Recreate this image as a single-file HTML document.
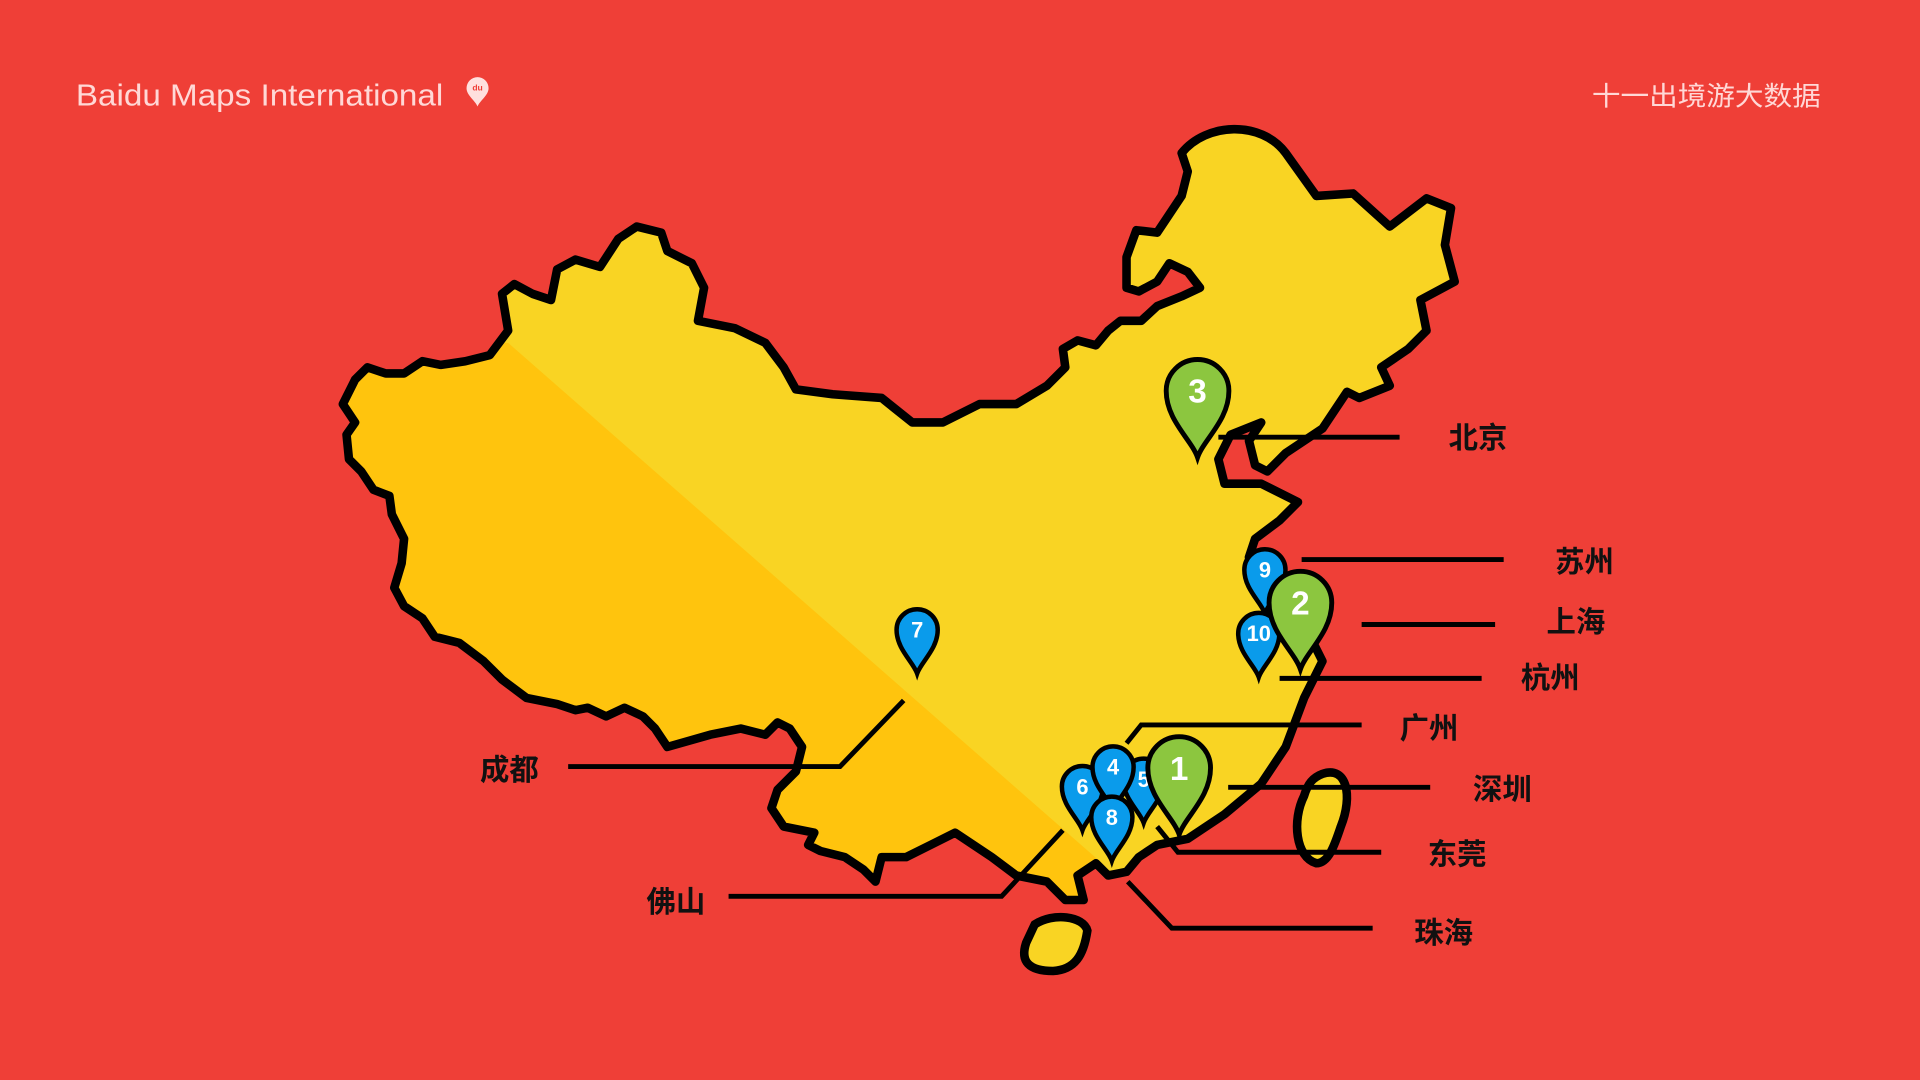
<!DOCTYPE html>
<html><head><meta charset="utf-8"><style>
html,body{margin:0;padding:0;background:#EF3F37;width:1920px;height:1080px;overflow:hidden}
svg{display:block}
</style></head><body>
<svg width="1920" height="1080" viewBox="0 0 1568 882" xmlns="http://www.w3.org/2000/svg">
<rect width="1568" height="882" fill="#EF3F37"/>
<defs>
<clipPath id="cn"><path id="cnp" d="M965,125 C985,100 1030,98 1050,125 L1075,160 L1105,158 L1135,185 L1165,162 L1185,170 L1180,200 L1188,230 L1160,245 L1165,270 L1150,285 L1128,300 L1135,315 L1110,325 L1100,320 L1080,350 L1050,370 L1035,385 L1025,380 L1020,360 L1030,345 L1005,355 L995,375 L1000,395 L1030,395 L1060,410 L1045,425 L1025,440 L1020,455 L1040,470 L1060,500 L1080,540 L1065,570 L1050,610 L1030,640 L1000,665 L970,685 L945,690 L930,700 L920,712 L905,715 L895,705 L880,715 L885,735 L870,735 L855,720 L830,715 L810,700 L795,690 L780,680 L760,690 L740,700 L720,700 L715,720 L705,710 L690,700 L670,695 L660,690 L665,680 L640,675 L630,660 L635,645 L650,630 L655,610 L645,595 L635,590 L625,600 L605,595 L580,600 L545,610 L535,595 L525,585 L510,578 L495,585 L480,578 L470,580 L455,575 L430,570 L410,555 L395,540 L375,525 L355,520 L345,505 L330,495 L322,480 L328,460 L330,440 L320,420 L318,405 L305,400 L295,385 L285,375 L283,355 L290,345 L280,330 L290,310 L300,300 L315,305 L330,305 L345,295 L360,298 L380,295 L400,290 L415,270 L410,240 L420,232 L435,240 L450,245 L455,220 L470,212 L490,218 L505,195 L520,185 L540,190 L545,205 L565,215 L575,235 L570,262 L600,268 L625,280 L640,300 L650,318 L680,322 L720,325 L745,345 L770,345 L800,330 L830,330 L855,315 L870,300 L868,285 L880,278 L895,282 L905,270 L915,262 L932,262 L945,250 L965,242 L980,235 L970,222 L955,215 L945,230 L930,238 L920,235 L920,210 L928,188 L945,190 L955,175 L965,160 L970,140 Z"/></clipPath>
</defs>
<g clip-path="url(#cn)">
<rect x="250" y="80" width="1000" height="700" fill="#F9D423"/>
<polygon points="415,280 900,705 900,800 250,800 250,280" fill="#FFC40D"/>
</g>
<use href="#cnp" fill="none" stroke="#000" stroke-width="7" stroke-linejoin="round"/>
<path d="M1080,632 C1100,625 1105,650 1095,675 C1090,690 1085,705 1075,705 C1058,700 1055,670 1065,650 C1068,640 1072,635 1080,632 Z" fill="#F9D423" stroke="#000" stroke-width="7"/>
<path d="M845,755 C860,745 885,748 888,760 C885,780 878,792 860,793 C840,793 833,785 838,770 Z" fill="#F9D423" stroke="#000" stroke-width="7"/>
<g stroke="#000" stroke-width="4" fill="none">
<path d="M995,357H1143"/><path d="M1063,457H1228"/><path d="M1112,510H1221"/><path d="M1045,554H1210"/>
<path d="M920,607L932,592H1112"/><path d="M1003,643H1168"/><path d="M945,675L962,696H1128"/>
<path d="M921,720L957,758H1121"/><path d="M738,572L686,626H464"/><path d="M868,678L818,732H595"/>
</g>
<g font-family="'Liberation Sans','Noto Sans CJK SC',sans-serif" font-weight="bold" font-size="24" fill="#111">
<text x="1183" y="366">北京</text><text x="1270" y="467">苏州</text><text x="1263" y="516">上海</text>
<text x="1242" y="562">杭州</text><text x="1143" y="603">广州</text><text x="1203" y="653">深圳</text>
<text x="1166" y="706">东莞</text><text x="1155" y="770">珠海</text><text x="392" y="637">成都</text><text x="528" y="745">佛山</text>
</g>
<defs>
<path id="pin" d="M0,1 C-3,-8 -16,-18 -16,-33 A16,16 0 1 1 16,-33 C16,-18 3,-8 0,1 Z"/>
</defs>
<g stroke="#000" stroke-width="3.5" font-family="'Liberation Sans',sans-serif" font-size="17" font-weight="bold" text-anchor="middle">
<g transform="translate(749,549) scale(1.05)"><use href="#pin" fill="#0A9BEB"/><text y="-27" fill="#fff" stroke="none">7</text></g>
<g transform="translate(1033,500) scale(1.05)"><use href="#pin" fill="#0A9BEB"/><text y="-27" fill="#fff" stroke="none">9</text></g>
<g transform="translate(1028,552) scale(1.05)"><use href="#pin" fill="#0A9BEB"/><text y="-27" fill="#fff" stroke="none">10</text></g>
<g transform="translate(934,671) scale(1.05)"><use href="#pin" fill="#0A9BEB"/><text y="-27" fill="#fff" stroke="none">5</text></g>
<g transform="translate(884,677) scale(1.05)"><use href="#pin" fill="#0A9BEB"/><text y="-27" fill="#fff" stroke="none">6</text></g>
<g transform="translate(909,661) scale(1.05)"><use href="#pin" fill="#0A9BEB"/><text y="-27" fill="#fff" stroke="none">4</text></g>
<g transform="translate(908,702) scale(1.05)"><use href="#pin" fill="#0A9BEB"/><text y="-27" fill="#fff" stroke="none">8</text></g>
<g transform="translate(978,372) scale(1.6)"><use href="#pin" fill="#8CC63F" stroke-width="2.5"/><text y="-27" fill="#fff" stroke="none">3</text></g>
<g transform="translate(1062,545) scale(1.6)"><use href="#pin" fill="#8CC63F" stroke-width="2.5"/><text y="-27" fill="#fff" stroke="none">2</text></g>
<g transform="translate(963,680) scale(1.6)"><use href="#pin" fill="#8CC63F" stroke-width="2.5"/><text y="-27" fill="#fff" stroke="none">1</text></g>
</g>
<text x="62" y="86" font-family="'Liberation Sans',sans-serif" font-size="25" fill="#FFD8D6" textLength="300" lengthAdjust="spacingAndGlyphs">Baidu Maps International</text>
<g transform="translate(390,87)"><path d="M0,0 C-2,-5 -9,-9 -9,-15 A9,9 0 1 1 9,-15 C9,-9 2,-5 0,0 Z" fill="#FFE0DE"/><text y="-13" font-size="7" text-anchor="middle" fill="#EF3F37" font-family="'Liberation Sans',sans-serif" font-weight="bold">du</text></g>
<text x="1300" y="86" font-family="'Liberation Sans','Noto Sans CJK SC',sans-serif" font-size="22" fill="#FFD8D6" textLength="187" lengthAdjust="spacingAndGlyphs">十一出境游大数据</text>
</svg>
</body></html>
